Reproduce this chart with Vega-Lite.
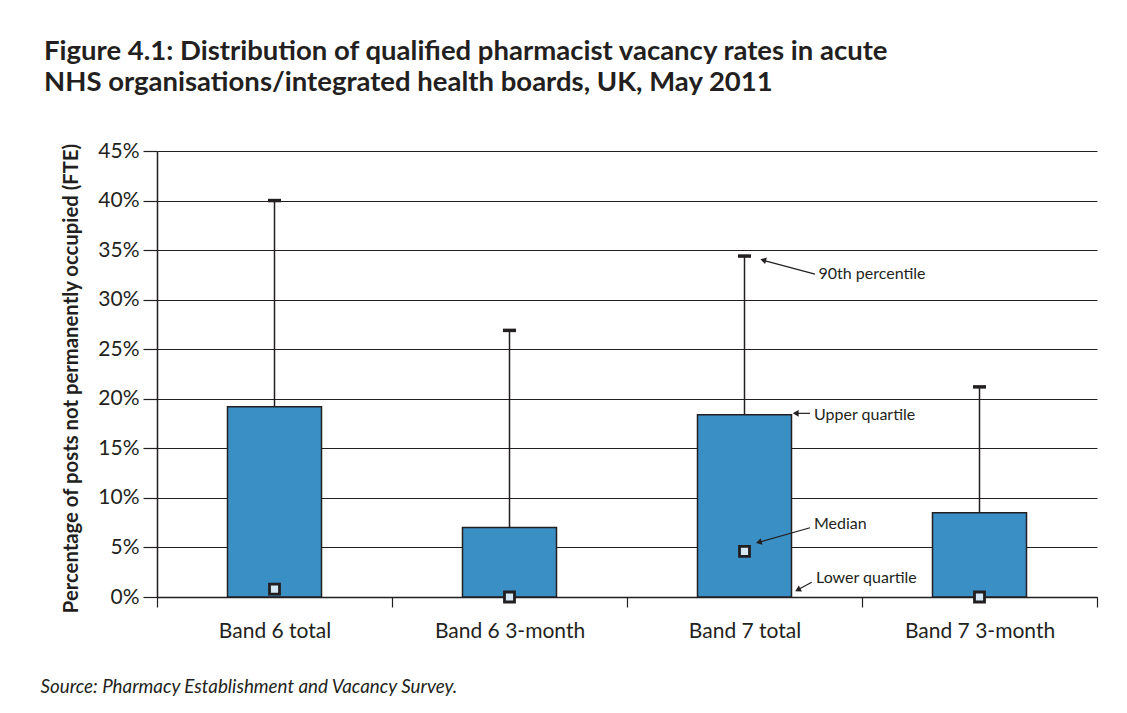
{
  "$schema": "https://vega.github.io/schema/vega-lite/v6.json",
  "width": 940,
  "height": 446,
  "autosize": {"type": "none"},
  "padding": {"left": 157, "top": 151, "right": 30, "bottom": 116},
  "background": "white",
  "title": {
    "text": ["Figure 4.1: Distribution of qualified pharmacist vacancy rates in acute", "NHS organisations/integrated health boards, UK, May 2011"],
    "anchor": "start",
    "frame": "group",
    "dx": -113,
    "offset": 44,
    "font": "Lato",
    "fontSize": 27.5,
    "fontWeight": "bold",
    "lineHeight": 31,
    "color": "#231f20"
  },
  "config": {"view": {"stroke": null}},
  "datasets": {
    "stats": [
      {"category": "Band 6 total", "uq": 0.192, "p90": 0.400, "median": 0.008},
      {"category": "Band 6 3-month", "uq": 0.070, "p90": 0.269, "median": 0.0},
      {"category": "Band 7 total", "uq": 0.184, "p90": 0.344, "median": 0.046},
      {"category": "Band 7 3-month", "uq": 0.085, "p90": 0.212, "median": 0.0}
    ],
    "annot": [
      {"category": "Band 7 total", "value": 0.344, "label": "90th percentile"},
      {"category": "Band 7 total", "value": 0.184, "label": "Upper quartile"},
      {"category": "Band 7 total", "value": 0.046, "label": "Median"},
      {"category": "Band 7 total", "value": 0.0, "label": "Lower quartile"}
    ]
  },
  "encoding": {
    "x": {
      "field": "category",
      "type": "nominal",
      "sort": ["Band 6 total", "Band 6 3-month", "Band 7 total", "Band 7 3-month"],
      "scale": {"domain": ["Band 6 total", "Band 6 3-month", "Band 7 total", "Band 7 3-month"], "paddingInner": 0, "paddingOuter": 0},
      "axis": {
        "title": "Source: Pharmacy Establishment and Vacancy Survey.",
        "titleX": -117,
        "titleY": 95,
        "titleAlign": "left",
        "titleBaseline": "alphabetic",
        "titleFont": "Lato",
        "titleFontStyle": "italic",
        "titleFontWeight": "normal",
        "titleFontSize": 18.8,
        "titleColor": "#231f20",
        "labelAngle": 0,
        "labelFont": "Lato",
        "labelFontSize": 21,
        "labelColor": "#231f20",
        "labelBaseline": "alphabetic",
        "labelPadding": 30,
        "tickBand": "extent",
        "tickSize": 10,
        "tickColor": "#231f20",
        "tickWidth": 1.2,
        "domainColor": "#231f20",
        "domainWidth": 1.5
      }
    }
  },
  "layer": [
    {
      "data": {"name": "stats"},
      "mark": {"type": "bar", "fill": "#3a8fc4", "stroke": "#231f20", "strokeWidth": 1.5, "width": {"band": 0.4}},
      "encoding": {
        "y": {
          "field": "uq",
          "type": "quantitative",
          "title": "Percentage of posts not permanently occupied (FTE)",
          "scale": {"domain": [0, 0.45], "nice": false, "zero": true},
          "axis": {
            "values": [0, 0.05, 0.1, 0.15, 0.2, 0.25, 0.3, 0.35, 0.4, 0.45],
            "format": ".0%",
            "grid": true,
            "gridColor": "#231f20",
            "gridWidth": 1.2,
            "domainColor": "#231f20",
            "domainWidth": 1.5,
            "tickColor": "#231f20",
            "tickWidth": 1.2,
            "tickSize": 14,
            "labelPadding": 4,
            "labelFont": "Lato",
            "labelFontSize": 21,
            "labelColor": "#231f20",
            "titleFont": "Lato",
            "titleFontSize": 20.3,
            "titleFontWeight": "bold",
            "titleColor": "#231f20",
            "titleX": -80,
            "titleY": 227,
            "titleAngle": -90,
            "titleAlign": "center",
            "titleBaseline": "alphabetic"
          }
        }
      }
    },
    {
      "data": {"name": "stats"},
      "mark": {"type": "rule", "stroke": "#231f20", "strokeWidth": 1.5},
      "encoding": {
        "y": {"field": "uq", "type": "quantitative", "title": "Percentage of posts not permanently occupied (FTE)"},
        "y2": {"field": "p90"}
      }
    },
    {
      "data": {"name": "stats"},
      "mark": {"type": "tick", "orient": "horizontal", "size": 13, "thickness": 3.5, "color": "#231f20", "opacity": 1},
      "encoding": {
        "y": {"field": "p90", "type": "quantitative", "title": "Percentage of posts not permanently occupied (FTE)"}
      }
    },
    {
      "data": {"name": "stats"},
      "mark": {"type": "point", "shape": "square", "size": 100, "filled": true, "fill": "#d4e8f5", "stroke": "#231f20", "strokeWidth": 2.8, "opacity": 1},
      "encoding": {
        "y": {"field": "median", "type": "quantitative", "title": "Percentage of posts not permanently occupied (FTE)"}
      }
    },
    {
      "data": {"name": "annot"},
      "transform": [{"filter": "datum.label === '90th percentile'"}],
      "layer": [
        {"mark": {"type": "rule", "stroke": "#231f20", "strokeWidth": 1.2, "xOffset": 70.5, "yOffset": 18, "x2Offset": 18, "y2Offset": 4},
         "encoding": {"x2": {"field": "category"}, "y": {"field": "value", "type": "quantitative", "title": "Percentage of posts not permanently occupied (FTE)"}, "y2": {"field": "value"}}},
        {"mark": {"type": "point", "shape": "triangle-left", "size": 45, "filled": true, "color": "#231f20", "opacity": 1, "angle": 15, "xOffset": 18.7, "yOffset": 4},
         "encoding": {"y": {"field": "value", "type": "quantitative", "title": "Percentage of posts not permanently occupied (FTE)"}}},
        {"mark": {"type": "text", "align": "left", "baseline": "middle", "font": "Lato", "fontSize": 16, "color": "#231f20", "dx": 74, "dy": 18},
         "encoding": {"text": {"field": "label"}, "y": {"field": "value", "type": "quantitative", "title": "Percentage of posts not permanently occupied (FTE)"}}}
      ]
    },
    {
      "data": {"name": "annot"},
      "transform": [{"filter": "datum.label === 'Upper quartile'"}],
      "layer": [
        {"mark": {"type": "rule", "stroke": "#231f20", "strokeWidth": 1.2, "xOffset": 65.5, "yOffset": -1.3, "x2Offset": 51, "y2Offset": -1.3},
         "encoding": {"x2": {"field": "category"}, "y": {"field": "value", "type": "quantitative", "title": "Percentage of posts not permanently occupied (FTE)"}, "y2": {"field": "value"}}},
        {"mark": {"type": "point", "shape": "triangle-left", "size": 45, "filled": true, "color": "#231f20", "opacity": 1, "angle": 0, "xOffset": 51.2, "yOffset": -1.3},
         "encoding": {"y": {"field": "value", "type": "quantitative", "title": "Percentage of posts not permanently occupied (FTE)"}}},
        {"mark": {"type": "text", "align": "left", "baseline": "middle", "font": "Lato", "fontSize": 16, "color": "#231f20", "dx": 69.5, "dy": 0},
         "encoding": {"text": {"field": "label"}, "y": {"field": "value", "type": "quantitative", "title": "Percentage of posts not permanently occupied (FTE)"}}}
      ]
    },
    {
      "data": {"name": "annot"},
      "transform": [{"filter": "datum.label === 'Median'"}],
      "layer": [
        {"mark": {"type": "rule", "stroke": "#231f20", "strokeWidth": 1.2, "xOffset": 65.5, "yOffset": -23.7, "x2Offset": 14.3, "y2Offset": -9.1},
         "encoding": {"x2": {"field": "category"}, "y": {"field": "value", "type": "quantitative", "title": "Percentage of posts not permanently occupied (FTE)"}, "y2": {"field": "value"}}},
        {"mark": {"type": "point", "shape": "triangle-left", "size": 45, "filled": true, "color": "#231f20", "opacity": 1, "angle": 344, "xOffset": 14.3, "yOffset": -9.1},
         "encoding": {"y": {"field": "value", "type": "quantitative", "title": "Percentage of posts not permanently occupied (FTE)"}}},
        {"mark": {"type": "text", "align": "left", "baseline": "middle", "font": "Lato", "fontSize": 16, "color": "#231f20", "dx": 69.5, "dy": -27},
         "encoding": {"text": {"field": "label"}, "y": {"field": "value", "type": "quantitative", "title": "Percentage of posts not permanently occupied (FTE)"}}}
      ]
    },
    {
      "data": {"name": "annot"},
      "transform": [{"filter": "datum.label === 'Lower quartile'"}],
      "layer": [
        {"mark": {"type": "rule", "stroke": "#231f20", "strokeWidth": 1.2, "xOffset": 67.2, "yOffset": -14.7, "x2Offset": 53.3, "y2Offset": -7.2},
         "encoding": {"x2": {"field": "category"}, "y": {"field": "value", "type": "quantitative", "title": "Percentage of posts not permanently occupied (FTE)"}, "y2": {"field": "value"}}},
        {"mark": {"type": "point", "shape": "triangle-left", "size": 45, "filled": true, "color": "#231f20", "opacity": 1, "angle": 332, "xOffset": 53.3, "yOffset": -7.2},
         "encoding": {"y": {"field": "value", "type": "quantitative", "title": "Percentage of posts not permanently occupied (FTE)"}}},
        {"mark": {"type": "text", "align": "left", "baseline": "middle", "font": "Lato", "fontSize": 16, "color": "#231f20", "dx": 71.5, "dy": -19.3},
         "encoding": {"text": {"field": "label"}, "y": {"field": "value", "type": "quantitative", "title": "Percentage of posts not permanently occupied (FTE)"}}}
      ]
    }
  ]
}
